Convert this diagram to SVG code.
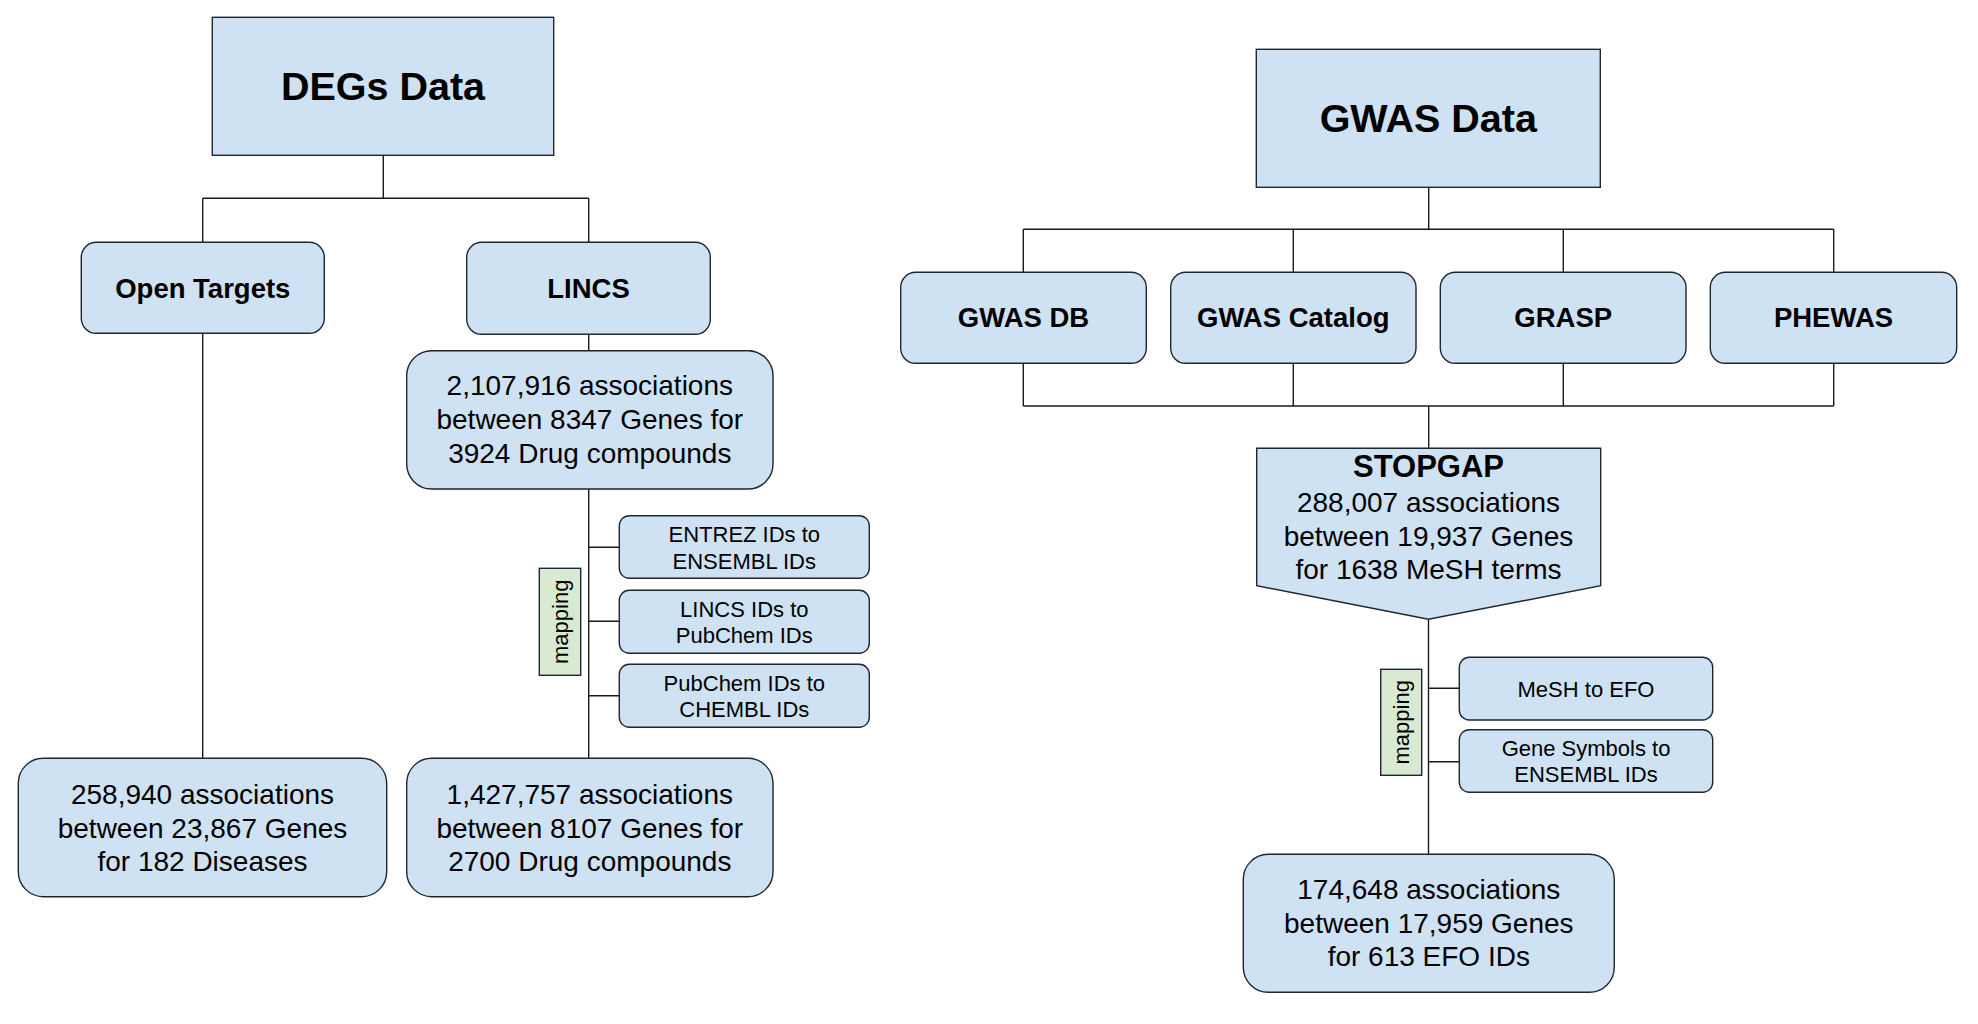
<svg xmlns="http://www.w3.org/2000/svg" width="1978" height="1024" viewBox="0 0 1978 1024">
<style>
.box{fill:#cfe2f3;stroke:#1e2630;stroke-width:1.4}
.map{fill:#d9ead3;stroke:#1e2630;stroke-width:1.4}
.ln{fill:none;stroke:#1a1a1a;stroke-width:1.4}
text{font-family:"Liberation Sans",Arial,sans-serif;fill:#000;text-anchor:middle}
.t1{font-size:39.5px;font-weight:bold}
.t2{font-size:27.5px;font-weight:bold}
.t3{font-size:28px}
.t4{font-size:22px}
</style>
<rect width="1978" height="1024" fill="#fff"/>
<g id="connectors">
<path class="ln" d="M383.3 155.3V198.3M202.7 198.3H588.7M202.7 198.3V242.3M588.7 198.3V242.3"/>
<path class="ln" d="M202.7 333.3V758.3"/>
<path class="ln" d="M588.7 334.3V350.7M588.7 489V758.3M588.7 547.3H619.3M588.7 621.3H619.3M588.7 695.7H619.3"/>
<path class="ln" d="M1428.7 187.3V229.3M1023.3 229.3H1833.7M1023.3 229.3V272.3M1293.3 229.3V272.3M1563.3 229.3V272.3M1833.7 229.3V272.3"/>
<path class="ln" d="M1023.3 363.3V406M1293.3 363.3V406M1563.3 363.3V406M1833.7 363.3V406M1023.3 406H1833.7M1428.7 406V448.3"/>
<path class="ln" d="M1428.5 619.3V854.3M1428.5 688.3H1459.3M1428.5 761.7H1459.3"/>
</g>
<g id="degs-data"><rect class="box" x="212.3" y="17.3" width="341.4" height="138"/><text class="t1" x="383" y="100">DEGs Data</text></g>
<g id="open-targets"><rect class="box" x="81.3" y="242.3" width="243" height="91" rx="15"/><text class="t2" x="202.8" y="297.7">Open Targets</text></g>
<g id="lincs"><rect class="box" x="466.7" y="242.3" width="243.6" height="92" rx="15"/><text class="t2" x="588.5" y="297.9">LINCS</text></g>
<g id="lincs-stats"><rect class="box" x="406.7" y="350.7" width="366.3" height="138.3" rx="25"/>
<text class="t3" x="589.8" y="395.3">2,107,916 associations</text><text class="t3" x="589.8" y="429.3">between 8347 Genes for</text><text class="t3" x="589.8" y="462.7">3924 Drug compounds</text></g>
<g id="map-entrez"><rect class="box" x="619.3" y="515.7" width="250" height="62.6" rx="10"/><text class="t4" x="744.3" y="542.3">ENTREZ IDs to</text><text class="t4" x="744.3" y="568.7">ENSEMBL IDs</text></g>
<g id="map-lincs"><rect class="box" x="619.3" y="590.3" width="250" height="63" rx="10"/><text class="t4" x="744.3" y="616.8">LINCS IDs to</text><text class="t4" x="744.3" y="643.3">PubChem IDs</text></g>
<g id="map-pubchem"><rect class="box" x="619.3" y="664.3" width="250" height="63" rx="10"/><text class="t4" x="744.3" y="690.9">PubChem IDs to</text><text class="t4" x="744.3" y="717.3">CHEMBL IDs</text></g>
<g id="mapping-left"><rect class="map" x="539.3" y="568.3" width="41.4" height="107"/><text class="t4" transform="translate(560 621.8) rotate(-90)" y="7.5">mapping</text></g>
<g id="ot-stats"><rect class="box" x="18.3" y="758.3" width="368.4" height="138.4" rx="25"/>
<text class="t3" x="202.5" y="804.3">258,940 associations</text><text class="t3" x="202.5" y="837.7">between 23,867 Genes</text><text class="t3" x="202.5" y="871">for 182 Diseases</text></g>
<g id="lincs-final"><rect class="box" x="406.7" y="758.3" width="366.3" height="138.4" rx="25"/>
<text class="t3" x="589.8" y="804.3">1,427,757 associations</text><text class="t3" x="589.8" y="837.7">between 8107 Genes for</text><text class="t3" x="589.8" y="871">2700 Drug compounds</text></g>
<g id="gwas-data"><rect class="box" x="1256.3" y="49.3" width="344" height="138"/><text class="t1" x="1428.3" y="131.7">GWAS Data</text></g>
<g id="gwas-db"><rect class="box" x="900.7" y="272.3" width="245.6" height="91" rx="15"/><text class="t2" x="1023.5" y="327.3">GWAS DB</text></g>
<g id="gwas-catalog"><rect class="box" x="1170.7" y="272.3" width="245.3" height="91" rx="15"/><text class="t2" x="1293.3" y="327.3">GWAS Catalog</text></g>
<g id="grasp"><rect class="box" x="1440.3" y="272.3" width="245.7" height="91" rx="15"/><text class="t2" x="1563.2" y="327.3">GRASP</text></g>
<g id="phewas"><rect class="box" x="1710.3" y="272.3" width="246.4" height="91" rx="15"/><text class="t2" x="1833.5" y="327.3">PHEWAS</text></g>
<g id="stopgap"><path class="box" d="M1256.7 448.3H1600.7V585.7L1428.5 619.3L1256.7 585.7Z"/>
<text x="1428.5" y="477" style="font-size:31px;font-weight:bold">STOPGAP</text>
<text class="t3" x="1428.5" y="511.7">288,007 associations</text><text class="t3" x="1428.5" y="545.7">between 19,937 Genes</text><text class="t3" x="1428.5" y="579">for 1638 MeSH terms</text></g>
<g id="map-mesh"><rect class="box" x="1459.3" y="657.3" width="253.4" height="62.7" rx="10"/><text class="t4" x="1586" y="696.7">MeSH to EFO</text></g>
<g id="map-gene"><rect class="box" x="1459.3" y="729.7" width="253.4" height="62.6" rx="10"/><text class="t4" x="1586" y="756">Gene Symbols to</text><text class="t4" x="1586" y="782.3">ENSEMBL IDs</text></g>
<g id="mapping-right"><rect class="map" x="1380.7" y="669.3" width="41" height="106"/><text class="t4" transform="translate(1401.2 722.3) rotate(-90)" y="7.5">mapping</text></g>
<g id="gwas-final"><rect class="box" x="1243.3" y="854.3" width="371" height="138" rx="25"/>
<text class="t3" x="1428.8" y="899.3">174,648 associations</text><text class="t3" x="1428.8" y="933.3">between 17,959 Genes</text><text class="t3" x="1428.8" y="966">for 613 EFO IDs</text></g>
</svg>
